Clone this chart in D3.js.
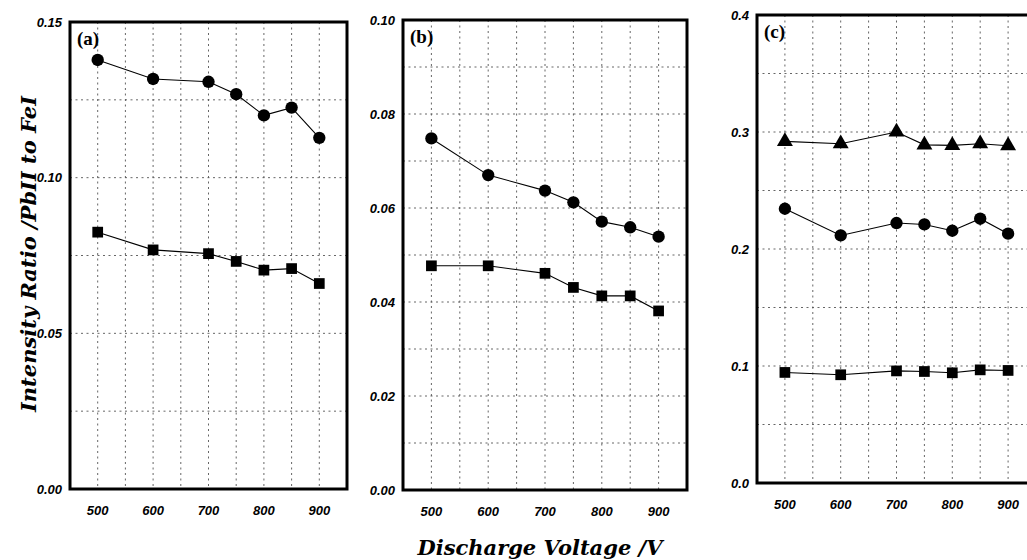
<!DOCTYPE html>
<html>
<head>
<meta charset="utf-8">
<script src="https://cdn.jsdelivr.net/npm/d3@7"></script>
<style>
html,body{margin:0;padding:0;background:#fff;}
svg{display:block;}
</style>
</head>
<body>
<svg id="chart" width="1027" height="560"></svg>
<script>
// ---- data ----
const voltages = [500, 600, 700, 750, 800, 850, 900];
const xTicks = [500, 600, 700, 800, 900];

const aCircles = [0.1378, 0.1317, 0.1308, 0.1268, 0.1200, 0.1225, 0.1128];
const aSquares = [0.0825, 0.0768, 0.0756, 0.0731, 0.0703, 0.0708, 0.0660];

const bCircles = [0.0748, 0.0670, 0.0637, 0.0612, 0.0571, 0.0559, 0.0539];
const bSquares = [0.0477, 0.0477, 0.0461, 0.0431, 0.0413, 0.0413, 0.0381];

const cTriangles = [0.292, 0.290, 0.300, 0.289, 0.2886, 0.290, 0.2883];
const cCircles   = [0.2344, 0.2116, 0.2222, 0.2210, 0.2156, 0.2259, 0.2131];
const cSquares   = [0.0945, 0.0925, 0.0958, 0.0953, 0.0942, 0.0967, 0.0962];

const aYTicks = [0.00, 0.05, 0.10, 0.15];
const bYTicks = [0.00, 0.02, 0.04, 0.06, 0.08, 0.10];
const cYTicks = [0.0, 0.1, 0.2, 0.3, 0.4];

const panelLabels = ["(a)", "(b)", "(c)"];
const yTitle = "Intensity Ratio /PbII to FeI";
const xTitle = "Discharge Voltage /V";

// ---- layout ----
const svg = d3.select("#chart");
const panels = [
  {label: panelLabels[0], left: 70, right: 347, top: 22, bottom: 489,
   yMax: 0.15, yTicks: aYTicks, grid: 0.025, fmt: d3.format(".2f"),
   series: [{vals: aCircles, shape: "circle"}, {vals: aSquares, shape: "square"}]},
  {label: panelLabels[1], left: 403, right: 687, top: 20, bottom: 490,
   yMax: 0.10, yTicks: bYTicks, grid: 0.01, fmt: d3.format(".2f"),
   series: [{vals: bCircles, shape: "circle"}, {vals: bSquares, shape: "square"}]},
  {label: panelLabels[2], left: 757, right: 1036, top: 15, bottom: 483,
   yMax: 0.4, yTicks: cYTicks, grid: 0.05, fmt: d3.format(".1f"),
   series: [{vals: cTriangles, shape: "triangle"}, {vals: cCircles, shape: "circle"}, {vals: cSquares, shape: "square"}]}
];

const tickFont = "'Liberation Sans', Arial, sans-serif";

panels.forEach(p => {
  const x = d3.scaleLinear().domain([450, 950]).range([p.left, p.right]);
  const y = d3.scaleLinear().domain([0, p.yMax]).range([p.bottom, p.top]);
  const g = svg.append("g");

  // grid
  const vGrid = d3.range(500, 950, 50);
  g.selectAll("line.vg").data(vGrid).join("line")
    .attr("x1", d => x(d)).attr("x2", d => x(d))
    .attr("y1", p.top).attr("y2", p.bottom)
    .attr("stroke", "#555").attr("stroke-width", 0.9).attr("stroke-dasharray", "2,3.5");
  const nH = Math.round(p.yMax / p.grid);
  const hGrid = d3.range(1, nH).map(i => i * p.grid);
  g.selectAll("line.hg").data(hGrid).join("line")
    .attr("x1", p.left).attr("x2", p.right)
    .attr("y1", d => y(d)).attr("y2", d => y(d))
    .attr("stroke", "#555").attr("stroke-width", 0.9).attr("stroke-dasharray", "2,3.5");

  // frame
  g.append("rect")
    .attr("x", p.left).attr("y", p.top)
    .attr("width", p.right - p.left).attr("height", p.bottom - p.top)
    .attr("fill", "none").attr("stroke", "#000").attr("stroke-width", 3);

  // y tick labels
  g.selectAll("text.yt").data(p.yTicks).join("text")
    .attr("x", p.left - 8).attr("y", d => y(d) + 4.5)
    .attr("text-anchor", "end")
    .attr("font-family", tickFont).attr("font-weight", "bold").attr("font-style", "italic")
    .attr("font-size", 13)
    .text(d => p.fmt(d));

  // x tick labels
  g.selectAll("text.xt").data(xTicks).join("text")
    .attr("x", d => x(d)).attr("y", p.bottom + 26)
    .attr("text-anchor", "middle")
    .attr("font-family", tickFont).attr("font-weight", "bold").attr("font-style", "italic")
    .attr("font-size", 13)
    .text(d => d);

  // panel label
  g.append("text")
    .attr("x", p.left + 7).attr("y", p.top + 23)
    .attr("font-family", "'Liberation Serif', 'Times New Roman', serif")
    .attr("font-weight", "bold").attr("font-size", 19)
    .text(p.label);

  // series
  const line = d3.line().x((d, i) => x(voltages[i])).y(d => y(d));
  p.series.forEach(s => {
    g.append("path").datum(s.vals)
      .attr("d", line).attr("fill", "none")
      .attr("stroke", "#000").attr("stroke-width", 1.1);
    const sym = s.shape === "circle" ? d3.symbolCircle
              : s.shape === "square" ? d3.symbolSquare : d3.symbolTriangle;
    const size = s.shape === "circle" ? 120 : s.shape === "square" ? 115 : 110;
    g.selectAll(null).data(s.vals).join("path")
      .attr("transform", (d, i) => `translate(${x(voltages[i])},${y(d)})`)
      .attr("d", d3.symbol().type(sym).size(size))
      .attr("fill", "#000");
  });
});

// axis titles
svg.append("text")
  .attr("transform", "translate(36,254) rotate(-90)")
  .attr("text-anchor", "middle")
  .attr("font-family", "'DejaVu Serif', serif")
  .attr("font-weight", "bold").attr("font-style", "italic")
  .attr("font-size", 21)
  .text(yTitle);

svg.append("text")
  .attr("x", 540).attr("y", 555)
  .attr("text-anchor", "middle")
  .attr("font-family", "'DejaVu Serif', serif")
  .attr("font-weight", "bold").attr("font-style", "italic")
  .attr("font-size", 21)
  .text(xTitle);
</script>
</body>
</html>
